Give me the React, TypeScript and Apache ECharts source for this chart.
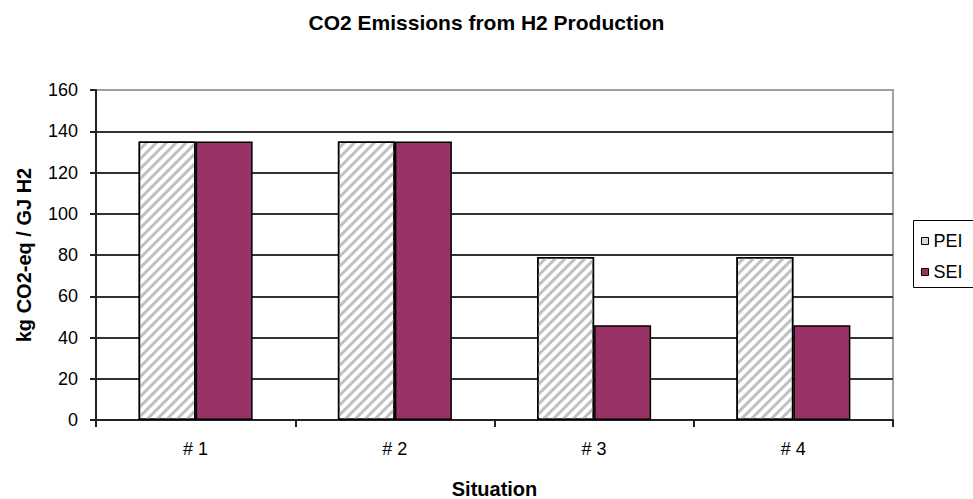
import React, { useEffect, useRef } from "react";
import * as echarts from "echarts";

const categories = ["# 1", "# 2", "# 3", "# 4"];
const peiValues = [135, 135, 79, 79];
const seiValues = [135, 135, 46, 46];
const seriesNames = ["PEI", "SEI"];
const titleText = "CO2 Emissions from H2 Production";
const yAxisName = "kg CO2-eq / GJ H2";
const xAxisName = "Situation";

const FONT = "'Liberation Sans', Arial, sans-serif";

export default function App() {
  const ref = useRef<HTMLDivElement>(null);

  useEffect(() => {
    if (!ref.current) return;
    const chart = echarts.init(ref.current, undefined, { renderer: "svg" });
    const gridColors = ["#333", "#333", "#333", "#333", "#333", "#333", "#333", "#333", "#a0a0a0"];
    chart.setOption({
      animation: false,
      backgroundColor: "#fff",
      textStyle: { fontFamily: FONT },
      title: {
        text: titleText,
        left: "center",
        top: 12,
        padding: 0,
        textStyle: { fontFamily: FONT, fontSize: 21, fontWeight: "bold", color: "#000" },
      },
      grid: {
        left: 96,
        right: 80,
        top: 90,
        bottom: 79,
        containLabel: false,
        outerBoundsMode: "none",
        show: true,
        borderColor: "#a0a0a0",
        borderWidth: 2,
        backgroundColor: "transparent",
      },
      legend: {
        orient: "vertical",
        left: 921,
        top: 231,
        padding: 0,
        itemGap: 11,
        itemWidth: 7,
        itemHeight: 7,
        icon: "rect",
        textStyle: { fontFamily: FONT, fontSize: 18, color: "#000", lineHeight: 20 },
        data: [
          { name: seriesNames[0], itemStyle: { color: "#d8d8d8", borderColor: "#000", borderWidth: 1, decal: "none" } },
          { name: seriesNames[1], itemStyle: { color: "#993366", borderColor: "#000", borderWidth: 1 } },
        ],
      },
      graphic: [
        {
          type: "rect",
          shape: { x: 913.5, y: 220.5, width: 100, height: 67 },
          style: { fill: "none", stroke: "#000", lineWidth: 1 },
          z: 10,
        },
      ],
      xAxis: {
        type: "category",
        data: categories,
        name: xAxisName,
        nameLocation: "middle",
        nameGap: 59,
        nameTextStyle: { fontFamily: FONT, fontSize: 20, fontWeight: "bold", color: "#000" },
        axisLine: { show: true, lineStyle: { color: "#222", width: 2 } },
        axisTick: { show: true, length: 7, inside: false, lineStyle: { color: "#222", width: 2 } },
        axisLabel: { fontFamily: FONT, fontSize: 18, color: "#000", margin: 20 },
        splitLine: { show: false },
      },
      yAxis: {
        type: "value",
        min: 0,
        max: 160,
        interval: 20,
        name: yAxisName,
        nameLocation: "middle",
        nameRotate: 90,
        nameGap: 62,
        nameTextStyle: { fontFamily: FONT, fontSize: 20, fontWeight: "bold", color: "#000" },
        axisLine: { show: true, lineStyle: { color: "#222", width: 2 } },
        axisTick: { show: true, length: 6, inside: false, lineStyle: { color: "#222", width: 2 } },
        axisLabel: { fontFamily: FONT, fontSize: 18, color: "#000", margin: 18 },
        splitLine: { show: true, lineStyle: { color: gridColors, width: 2 } },
      },
      series: [
        {
          name: seriesNames[0],
          type: "bar",
          data: peiValues,
          barWidth: 57,
          barGap: "0%",
          itemStyle: {
            color: "#ffffff",
            borderColor: "#000",
            borderWidth: 1.5,
            decal: {
              symbol: "rect",
              symbolSize: 1,
              color: "#c0c0c0",
              dashArrayX: [1, 0],
              dashArrayY: [3, 4],
              rotation: -Math.PI / 4,
            },
          },
          z: 3,
        },
        {
          name: seriesNames[1],
          type: "bar",
          data: seiValues,
          barWidth: 57,
          barGap: "0%",
          itemStyle: { color: "#993366", borderColor: "#000", borderWidth: 1.5 },
          z: 3,
        },
      ],
    });
    return () => chart.dispose();
  }, []);

  return <div ref={ref} style={{ width: 973, height: 499, position: "absolute", left: 0, top: 0 }} />;
}
